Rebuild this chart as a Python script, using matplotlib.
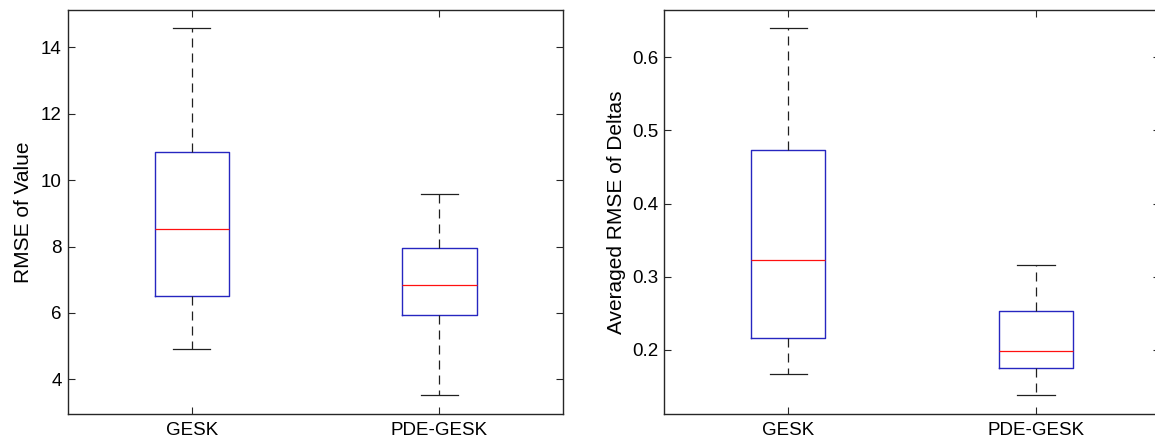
import matplotlib
matplotlib.use("Agg")
import matplotlib.pyplot as plt

plt.rcParams['font.family'] = ['Liberation Sans', 'DejaVu Sans']
plt.rcParams['lines.scale_dashes'] = False

categories = ["GESK", "PDE-GESK"]

# Left panel: RMSE of Value
value_whislo = [4.92, 3.52]
value_q1 = [6.52, 5.95]
value_med = [8.52, 6.84]
value_q3 = [10.85, 7.95]
value_whishi = [14.57, 9.58]

# Right panel: Averaged RMSE of Deltas
delta_whislo = [0.1667, 0.1375]
delta_q1 = [0.2160, 0.1745]
delta_med = [0.3233, 0.1978]
delta_q3 = [0.4736, 0.2526]
delta_whishi = [0.6397, 0.3164]

ylabels = ["RMSE of Value", "Averaged RMSE of Deltas"]

fig = plt.figure(figsize=(11.55, 4.41), dpi=100)
ax1 = fig.add_axes([68/1155, 27.3/441, 495.3/1155, 403.7/441])
ax2 = fig.add_axes([664.3/1155, 27.3/441, 495.6/1155, 403.7/441])

BLUE = '#2626c0'
RED = '#ff1010'
SPINE = '#262626'

def draw(ax, lo, q1, med, q3, hi, ylabel, lpad):
    stats = []
    for i, c in enumerate(categories):
        stats.append(dict(label=c, whislo=lo[i], q1=q1[i], med=med[i],
                          q3=q3[i], whishi=hi[i], fliers=[]))
    ax.bxp(stats, positions=[1, 2], widths=0.3, showfliers=False,
           boxprops=dict(color=BLUE, linewidth=1.0),
           medianprops=dict(color=RED, linewidth=0.9),
           whiskerprops=dict(color='#202020', linewidth=0.9, linestyle=(0, (6.5, 4.3))),
           capprops=dict(color='#202020', linewidth=0.9))
    ax.set_xlim(0.5, 2.5)
    mn, mx = min(lo), max(hi)
    pad = 0.05 * (mx - mn)
    ax.set_ylim(mn - pad, mx + pad)
    ax.set_ylabel(ylabel, fontsize=15, labelpad=lpad)
    ax.tick_params(direction='in', length=5, width=0.8, color=SPINE,
                   labelsize=13.5, top=True, right=True)
    ax.tick_params(axis='x', pad=6)
    ax.tick_params(axis='y', pad=4.5)
    for s in ax.spines.values():
        s.set_color(SPINE)
        s.set_linewidth(1.0)

draw(ax1, value_whislo, value_q1, value_med, value_q3, value_whishi, ylabels[0], 5.5)
draw(ax2, delta_whislo, delta_q1, delta_med, delta_q3, delta_whishi, ylabels[1], 4)
ax1.set_yticks([4, 6, 8, 10, 12, 14])
ax2.set_yticks([0.2, 0.3, 0.4, 0.5, 0.6])

fig.savefig("out.png", dpi=100)
